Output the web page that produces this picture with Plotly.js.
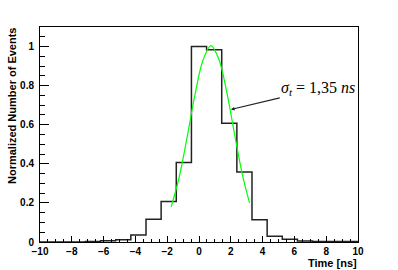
<!DOCTYPE html>
<html><head><meta charset="utf-8">
<script src="https://cdn.plot.ly/plotly-3.0.1.min.js"></script>
<style>html,body{margin:0;padding:0;background:#fff}#c{width:398px;height:270px}</style>
</head><body><div id="c"></div>
<script>
// Histogram: 21 bins from -10 to 10 (left edges), normalized counts
const binLeftEdges = [-10, -9.048, -8.095, -7.143, -6.190, -5.238, -4.286, -3.333, -2.381, -1.429, -0.476, 0.476, 1.429, 2.381, 3.333, 4.286, 5.238, 6.190, 7.143, 8.095, 9.048];
const binValues = [0, 0, 0, 0.002, 0.006, 0.012, 0.036, 0.117, 0.207, 0.407, 1.0, 0.983, 0.607, 0.358, 0.114, 0.03, 0.014, 0.005, 0.003, 0.002, 0.002];
const histEnd = 10;
// Gaussian fit curve
const fitX = [-1.75, -1.25, -0.75, -0.25, 0.25, 0.75, 1.25, 1.75, 2.25, 2.75, 3.18];
const fitY = [0.18, 0.33, 0.535, 0.755, 0.93, 1.005, 0.935, 0.765, 0.545, 0.337, 0.20];
const xTickVals = [-10, -8, -6, -4, -2, 0, 2, 4, 6, 8, 10];
const yTickVals = [0, 0.2, 0.4, 0.6, 0.8, 1];
const yTickText = ["0", "0.2", "0.4", "0.6", "0.8", "1"];
const annotText = "<i>σ</i><sub><i>t</i></sub> = 1,35 <i>ns</i>";

const hx = binLeftEdges.concat([histEnd]);
const hy = binValues.concat([binValues[binValues.length-1]]);

const traces = [
  {x: hx, y: hy, type: 'scatter', mode: 'lines', line: {shape: 'hv', color: '#222', width: 1.5}, hoverinfo: 'skip'},
  {x: fitX, y: fitY, type: 'scatter', mode: 'lines', line: {shape: 'spline', color: '#00ff00', width: 1.2}, hoverinfo: 'skip'}
];
const tickFont = {family: 'Liberation Sans, Arial, sans-serif', size: 10, color: '#000', weight: 'bold'};
const layout = {
  width: 398, height: 270,
  margin: {l: 40, r: 40, t: 27, b: 28, pad: 0},
  paper_bgcolor: '#fff', plot_bgcolor: '#fff',
  showlegend: false,
  xaxis: {range: [-10, 10], tickvals: xTickVals, tickfont: tickFont, ticks: 'inside', ticklen: 6, tickcolor: '#000', tickwidth: 1,
    minor: {dtick: 0.5, ticks: 'inside', ticklen: 3, tickcolor: '#000', tickwidth: 1, showgrid: false},
    showline: true, linecolor: '#000', linewidth: 1, mirror: true, showgrid: false, zeroline: false, ticklabelstandoff: 0},
  yaxis: {range: [0, 1.1], tickvals: yTickVals, ticktext: yTickText, tickfont: tickFont, ticks: 'inside', ticklen: 9, tickcolor: '#000', tickwidth: 1,
    minor: {dtick: 0.05, ticks: 'inside', ticklen: 5, tickcolor: '#000', tickwidth: 1, showgrid: false},
    showline: true, linecolor: '#000', linewidth: 1, mirror: true, showgrid: false, zeroline: false, ticklabelstandoff: 3},
  annotations: [
    {x: 2.01, y: 0.678, xref: 'x', yref: 'y', ax: 7.5, ay: 0.785, axref: 'x', ayref: 'y', text: annotText, showarrow: true,
     arrowhead: 2, arrowsize: 0.6, arrowwidth: 1.2, arrowcolor: '#222', standoff: 0, startstandoff: 0,
     font: {family: 'Liberation Serif, DejaVu Serif, serif', size: 16, color: '#000'}},
    {x: 1, y: 0, xref: 'paper', yref: 'paper', xanchor: 'right', yanchor: 'top', yshift: -14, borderpad: 0, text: 'Time [ns]', showarrow: false,
     font: {family: 'Liberation Sans, Arial, sans-serif', size: 11, color: '#000', weight: 'bold'}},
    {x: 0, y: 1, xref: 'paper', yref: 'paper', xanchor: 'right', yanchor: 'top', xshift: -21, borderpad: 0, textangle: -90, text: 'Normalized Number of Events', showarrow: false,
     font: {family: 'Liberation Sans, Arial, sans-serif', size: 11, color: '#000', weight: 'bold'}}
  ]
};
Plotly.newPlot('c', traces, layout, {staticPlot: true, displayModeBar: false});
</script></body></html>
